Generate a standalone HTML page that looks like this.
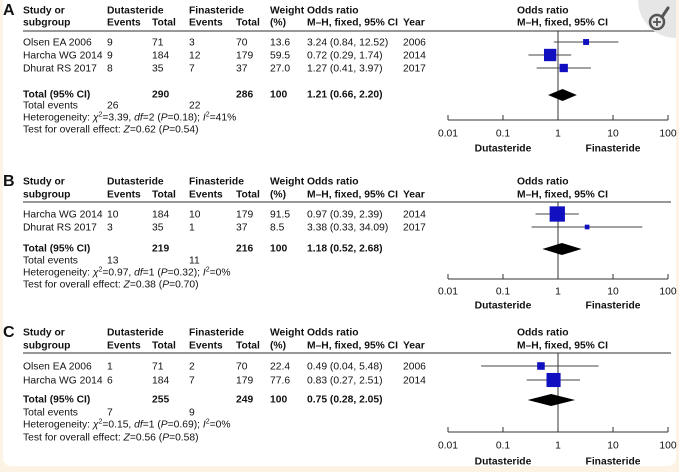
<!DOCTYPE html>
<html><head><meta charset="utf-8">
<style>
html,body{margin:0;padding:0;background:#fdf3e4;}
#wrap{position:absolute;left:0;top:0;width:679px;height:472px;background:#fdf3e4;}
#card{position:absolute;left:3px;top:0;width:673px;height:466px;background:#fff;border-radius:0 0 8px 8px;}
svg{position:absolute;left:0;top:0;}
text{font-family:"Liberation Sans",Arial,sans-serif;font-size:10.3px;fill:#111;}
.b{font-weight:bold;}
</style></head>
<body>
<div id="wrap">
<div id="card"></div>
<svg id="svg" width="679" height="472"></svg>
</div>
<script>
// ---------- data ----------
const panelLabels = ["A","B","C"];
const studiesA = ["Olsen EA 2006","Harcha WG 2014","Dhurat RS 2017"];
const studiesB = ["Harcha WG 2014","Dhurat RS 2017"];
const studiesC = ["Olsen EA 2006","Harcha WG 2014"];
const dutEventsA=[9,9,8], dutTotalA=[71,184,35], finEventsA=[3,12,7], finTotalA=[70,179,37];
const dutEventsB=[10,3], dutTotalB=[184,35], finEventsB=[10,1], finTotalB=[179,37];
const dutEventsC=[1,6], dutTotalC=[71,184], finEventsC=[2,7], finTotalC=[70,179];
const weightsA=[13.6,59.5,27.0], weightsB=[91.5,8.5], weightsC=[22.4,77.6];
const orA=[3.24,0.72,1.27], loA=[0.84,0.29,0.41], hiA=[12.52,1.74,3.97];
const orB=[0.97,3.38], loB=[0.39,0.33], hiB=[2.39,34.09];
const orC=[0.49,0.83], loC=[0.04,0.27], hiC=[5.48,2.51];
const yearsA=[2006,2014,2017], yearsB=[2014,2017], yearsC=[2006,2014];
const totalOR=[1.21,1.18,0.75], totalLo=[0.66,0.52,0.28], totalHi=[2.20,2.68,2.05];
const totalDut=[290,219,255], totalFin=[286,216,249];
const totalEvDut=[26,13,7], totalEvFin=[22,11,9];
const hetChi=["3.39","0.97","0.15"], hetDf=[2,1,1], hetP=["0.18","0.32","0.69"], hetI2=[41,0,0];
const testZ=["0.62","0.38","0.56"], testP=["0.54","0.70","0.58"];
const tickValues=[0.01,0.1,1,10,100];
const tickLabels=["0.01","0.1","1","10","100"];

const panels=[
 {studies:studiesA,de:dutEventsA,dt:dutTotalA,fe:finEventsA,ft:finTotalA,w:weightsA,or:orA,lo:loA,hi:hiA,yr:yearsA},
 {studies:studiesB,de:dutEventsB,dt:dutTotalB,fe:finEventsB,ft:finTotalB,w:weightsB,or:orB,lo:loB,hi:hiB,yr:yearsB},
 {studies:studiesC,de:dutEventsC,dt:dutTotalC,fe:finEventsC,ft:finTotalC,w:weightsC,or:orC,lo:loC,hi:hiC,yr:yearsC}
];
// layout (pixel positions)
const layout=[
 {h1:10,h2:22,line:31,rows:[42,55,68],total:94,ev:105,het:117,test:129,axis:120,tl:133,lab:148},
 {h1:181,h2:194,line:202,rows:[214,227],total:248,ev:260,het:272,test:284,axis:279,tl:291,lab:305},
 {h1:332,h2:345,line:353,rows:[366,380],total:399,ev:412,het:424,test:437,axis:432,tl:445,lab:461}
];
const col={study:23,de:107,dt:152,fe:189,ft:236,w:270,or:307,yr:403,fh:517};
const xL=448,xR=668;
function xs(v){return xL+(Math.log10(v)+2)/4*(xR-xL);}

const NS="http://www.w3.org/2000/svg";
const svg=document.getElementById('svg');
function mk(tag,attrs,parent){const e=document.createElementNS(NS,tag);for(const k in attrs)e.setAttribute(k,attrs[k]);(parent||svg).appendChild(e);return e;}
function txt(x,y,s,cls,parent,anchor){const t=mk('text',{x:x,y:y+3.5},parent);if(cls)t.setAttribute('class',cls);if(anchor)t.setAttribute('text-anchor',anchor);t.innerHTML=s;return t;}

panels.forEach((p,pi)=>{
 const L=layout[pi];
 const g=mk('g',{});
 
 
 const pl=txt(3,L.h1+1.5,panelLabels[pi],'b',g);pl.setAttribute('style','font-size:16px');
 
 
 const hd=mk('g',{},g);
 
 
 txt(col.study,L.h1,'Study or','b',hd);txt(col.study,L.h2,'subgroup','b',hd);
 txt(col.de,L.h1,'Dutasteride','b',hd);txt(col.de,L.h2,'Events','b',hd);txt(col.dt,L.h2,'Total','b',hd);
 txt(col.fe,L.h1,'Finasteride','b',hd);txt(col.fe,L.h2,'Events','b',hd);txt(col.ft,L.h2,'Total','b',hd);
 txt(col.w,L.h1,'Weight','b',hd);txt(col.w,L.h2,'(%)','b',hd);
 txt(col.or,L.h1,'Odds ratio','b',hd);txt(col.or,L.h2,'M–H, fixed, 95% CI','b',hd);
 txt(col.yr,L.h2,'Year','b',hd);
 txt(col.fh,L.h1,'Odds ratio','b',hd);txt(col.fh,L.h2,'M–H, fixed, 95% CI','b',hd);
 mk('line',{x1:23,x2:671,y1:L.line,y2:L.line,stroke:'#777','stroke-width':1.5},g);
 const nl=mk('line',{x1:xs(1),x2:xs(1),y1:L.line,y2:L.axis,stroke:'#333','stroke-width':1},g);
 
 
 p.studies.forEach((s,i)=>{
  const y=L.rows[i];
  const r=mk('g',{},g);
  
  
  txt(col.study,y,s,null,r);txt(col.de,y,p.de[i],null,r);txt(col.dt,y,p.dt[i],null,r);
  txt(col.fe,y,p.fe[i],null,r);txt(col.ft,y,p.ft[i],null,r);txt(col.w,y,p.w[i].toFixed(1),null,r);
  txt(col.or,y,p.or[i].toFixed(2)+' ('+p.lo[i].toFixed(2)+', '+p.hi[i].toFixed(2)+')',null,r);
  txt(col.yr,y,p.yr[i],null,r);
  const ci=mk('line',{x1:xs(p.lo[i]),x2:xs(p.hi[i]),y1:y,y2:y,stroke:'#444','stroke-width':1},r);
  
  
  const sz=1.6*Math.sqrt(p.w[i]);
  const sq=mk('rect',{x:xs(p.or[i])-sz/2,y:y-sz/2,width:sz,height:sz,fill:'#1010c0'},r);
  
  
 });
 const t=mk('g',{},g);
 
 
 txt(col.study,L.total,'Total (95% CI)','b',t);txt(col.dt,L.total,totalDut[pi],'b',t);
 txt(col.ft,L.total,totalFin[pi],'b',t);txt(col.w,L.total,'100','b',t);
 txt(col.or,L.total,totalOR[pi].toFixed(2)+' ('+totalLo[pi].toFixed(2)+', '+totalHi[pi].toFixed(2)+')','b',t);
 const y=L.total+1;
 const dm=mk('polygon',{points:`${xs(totalLo[pi])},${y} ${xs(totalOR[pi])},${y-6} ${xs(totalHi[pi])},${y} ${xs(totalOR[pi])},${y+6}`,fill:'#000'},t);
 
 
 txt(col.study,L.ev,'Total events',null,g);txt(col.de,L.ev,totalEvDut[pi],null,g);txt(col.fe,L.ev,totalEvFin[pi],null,g);
 const h=txt(col.study,L.het,`Heterogeneity: <tspan font-style="italic">χ</tspan><tspan dy="-4" font-size="7">2</tspan><tspan dy="4">=${hetChi[pi]}, </tspan><tspan font-style="italic">df</tspan>=${hetDf[pi]} (<tspan font-style="italic">P</tspan>=${hetP[pi]}); <tspan font-style="italic">I</tspan><tspan dy="-4" font-size="7">2</tspan><tspan dy="4">=${hetI2[pi]}%</tspan>`,null,g);
 
 
 const te=txt(col.study,L.test,`Test for overall effect: <tspan font-style="italic">Z</tspan>=${testZ[pi]} (<tspan font-style="italic">P</tspan>=${testP[pi]})`,null,g);
 
 
 const ax=mk('g',{},g);
 
 
 mk('line',{x1:xs(tickValues[0]),x2:xs(tickValues[tickValues.length-1]),y1:L.axis,y2:L.axis,stroke:'#333','stroke-width':1},ax);
 tickValues.forEach((v,i)=>{
  mk('line',{x1:xs(v),x2:xs(v),y1:L.axis-5,y2:L.axis,stroke:'#333','stroke-width':1},ax);
  txt(xs(v),L.tl,tickLabels[i],null,ax,'middle');
 });
 txt(503,L.lab,'Dutasteride','b',ax,'middle');
 txt(613,L.lab,'Finasteride','b',ax,'middle');
});
const zi=mk('g',{});


mk('path',{d:'M638,0 H676 V38 A38,38 0 0 1 638,0 Z',fill:'#e6e6e6'},zi);
mk('circle',{cx:657,cy:22,r:7,fill:'none',stroke:'#555','stroke-width':2.5},zi);
mk('line',{x1:662,y1:17,x2:668,y2:8,stroke:'#555','stroke-width':3,'stroke-linecap':'round'},zi);
mk('line',{x1:653,y1:22,x2:661,y2:22,stroke:'#555','stroke-width':1.8},zi);
mk('line',{x1:657,y1:18,x2:657,y2:26,stroke:'#555','stroke-width':1.8},zi);
</script>
</body></html>
